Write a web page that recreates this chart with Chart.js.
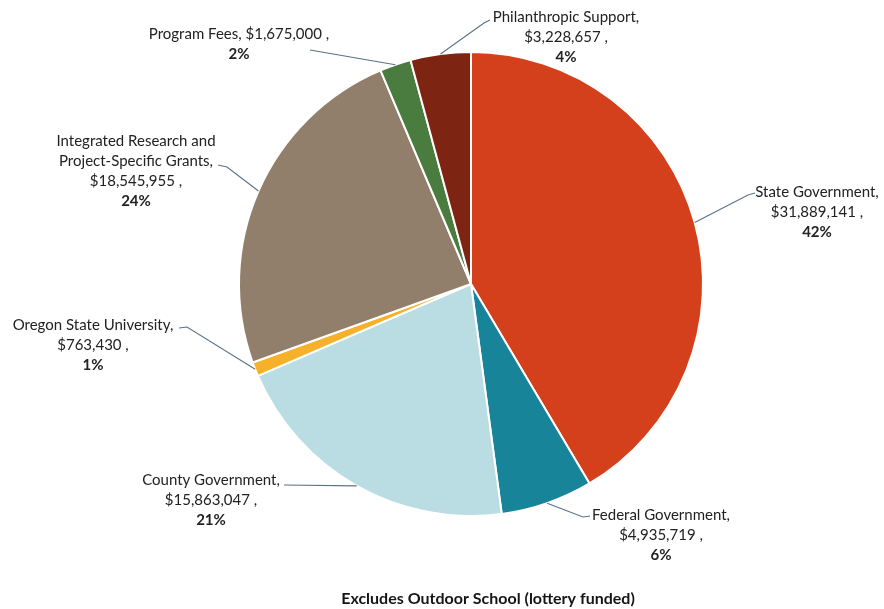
<!DOCTYPE html>
<html>
<head>
<meta charset="utf-8">
<script src="https://cdn.jsdelivr.net/npm/chart.js@4/dist/chart.umd.min.js"></script>
<style>
  html, body { margin: 0; padding: 0; background: #ffffff; }
  #wrap { width: 884px; height: 609px; position: relative; }
</style>
</head>
<body>
<div id="wrap"><canvas id="c" width="884" height="609"></canvas></div>
<script>
// ---- data ----
const categories = [
  "State Government",
  "Federal Government",
  "County Government",
  "Oregon State University",
  "Integrated Research and Project-Specific Grants",
  "Program Fees",
  "Philanthropic Support"
];
const amounts = [31889141, 4935719, 15863047, 763430, 18545955, 1675000, 3228657];
const percentLabels = ["42%", "6%", "21%", "1%", "24%", "2%", "4%"];
const sliceColors = ["#D5401C", "#17849A", "#BADCE3", "#F6B02A", "#917F6C", "#4A7B3F", "#7E2413"];
const footnote = "Excludes Outdoor School (lottery funded)";

// ---- label layout (text placement + leader elbows) ----
const labelLayout = [
  { cx: 817, y: 192, mode: "stack", path: [[748, 195], [755, 193]] },
  { cx: 661, y: 515, mode: "stack", path: [[583, 517], [590, 516]] },
  { cx: 211, y: 480, mode: "stack", path: [[284, 485]] },
  { cx: 93,  y: 325, mode: "stack", path: [[187, 327], [179, 328]] },
  { cx: 136, y: 141, mode: "stack", breakAfter: "and", path: [[227, 167], [218, 165]] },
  { cx: 239, y: 34,  mode: "inline", path: [[310, 50]] },
  { cx: 566, y: 17,  mode: "stack", path: [[484, 23], [490, 20]] }
];

const FONT = "Lato, 'Open Sans', sans-serif";
const LINE_H = 20;

const labelPlugin = {
  id: "pieLabels",
  afterDatasetsDraw(chart) {
    const ctx = chart.ctx;
    const meta = chart.getDatasetMeta(0);
    meta.data.forEach((arc, i) => {
      const p = arc.getProps(["x", "y", "startAngle", "endAngle", "outerRadius"], true);
      const mid = (p.startAngle + p.endAngle) / 2;
      const sx = p.x + Math.cos(mid) * p.outerRadius;
      const sy = p.y + Math.sin(mid) * p.outerRadius;
      const L = labelLayout[i];
      // leader line
      ctx.save();
      ctx.strokeStyle = "#5B7283";
      ctx.lineWidth = 1.1;
      ctx.beginPath();
      ctx.moveTo(sx, sy);
      L.path.forEach(pt => ctx.lineTo(pt[0], pt[1]));
      ctx.stroke();
      // text
      const val = "$" + amounts[i].toLocaleString("en-US") + " ,";
      let lines = [];
      if (L.mode === "inline") {
        lines.push({ t: categories[i] + ", " + val, b: false });
      } else {
        if (L.breakAfter) {
          const k = categories[i].indexOf(L.breakAfter) + L.breakAfter.length;
          lines.push({ t: categories[i].slice(0, k), b: false });
          lines.push({ t: categories[i].slice(k + 1) + ",", b: false });
        } else {
          lines.push({ t: categories[i] + ",", b: false });
        }
        lines.push({ t: val, b: false });
      }
      lines.push({ t: percentLabels[i], b: true });
      ctx.fillStyle = "#222222";
      ctx.textAlign = "center";
      ctx.textBaseline = "middle";
      lines.forEach((ln, j) => {
        ctx.font = (ln.b ? "bold " : "") + "15px " + FONT;
        ctx.fillText(ln.t, L.cx, L.y + j * LINE_H);
      });
      ctx.restore();
    });
    // footnote
    ctx.save();
    ctx.font = "bold 16px " + FONT;
    ctx.fillStyle = "#151515";
    ctx.textAlign = "center";
    ctx.textBaseline = "middle";
    ctx.fillText(footnote, 488, 599);
    ctx.restore();
  }
};

new Chart(document.getElementById("c"), {
  type: "pie",
  data: {
    labels: categories,
    datasets: [{
      data: amounts,
      backgroundColor: sliceColors,
      borderColor: "#ffffff",
      borderWidth: 2
    }]
  },
  options: {
    responsive: false,
    animation: false,
    layout: { padding: { top: 51, bottom: 92, left: 58, right: 0 } },
    plugins: {
      legend: { display: false },
      tooltip: { enabled: false },
      title: { display: false }
    }
  },
  plugins: [labelPlugin]
});
</script>
</body>
</html>
